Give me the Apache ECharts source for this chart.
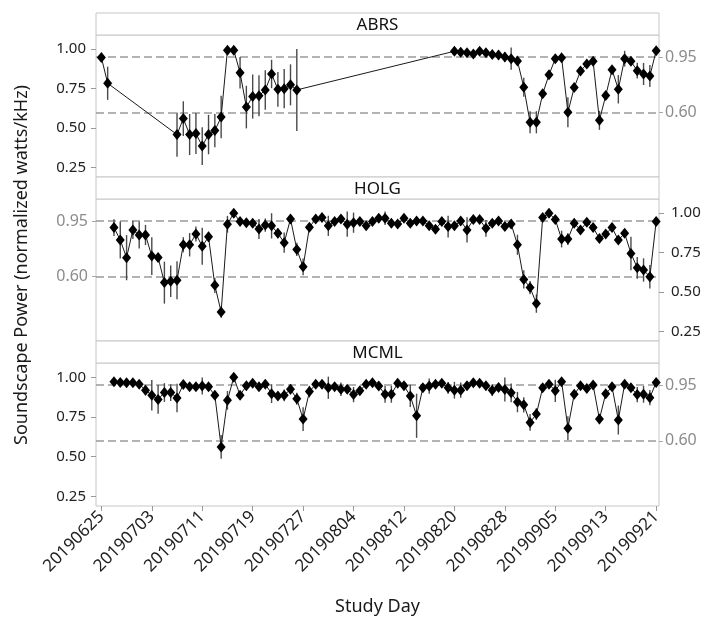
<!DOCTYPE html>
<html>
<head>
<meta charset="utf-8">
<script src="https://cdn.jsdelivr.net/npm/echarts@6/dist/echarts.min.js"></script>
<style>
  html, body { margin: 0; padding: 0; background: #fff; }
  #chart { width: 707px; height: 623px; }
</style>
</head>
<body>
<div id="chart"></div>
<script>
// Study days (one entry per day, 2019-06-25 .. 2019-09-21)
const DATES = [
  '20190625','20190626','20190627','20190628','20190629','20190630',
  '20190701','20190702','20190703','20190704','20190705','20190706','20190707','20190708','20190709','20190710',
  '20190711','20190712','20190713','20190714','20190715','20190716','20190717','20190718','20190719','20190720',
  '20190721','20190722','20190723','20190724','20190725','20190726','20190727','20190728','20190729','20190730','20190731',
  '20190801','20190802','20190803','20190804','20190805','20190806','20190807','20190808','20190809','20190810',
  '20190811','20190812','20190813','20190814','20190815','20190816','20190817','20190818','20190819','20190820',
  '20190821','20190822','20190823','20190824','20190825','20190826','20190827','20190828','20190829','20190830','20190831',
  '20190901','20190902','20190903','20190904','20190905','20190906','20190907','20190908','20190909','20190910',
  '20190911','20190912','20190913','20190914','20190915','20190916','20190917','20190918','20190919','20190920','20190921'
];

// Labelled study days on the x axis
const TICK_DATES = ['20190625','20190703','20190711','20190719','20190727','20190804',
                    '20190812','20190820','20190828','20190905','20190913','20190921'];

const SITES = ['ABRS', 'HOLG', 'MCML'];

// Daily mean soundscape power (null = no recording that day)
const ABRS_POWER = [
  0.948, 0.784, null, null, null, null, null, null, null, null,
  null, null, 0.459, 0.56, 0.459, 0.465, 0.386, 0.459, 0.484, 0.57,
  0.994, 0.994, 0.851, 0.633, 0.70, 0.705, 0.742, 0.843, 0.746, 0.75,
  0.774, 0.742, null, null, null, null, null, null, null, null,
  null, null, null, null, null, null, null, null, null, null,
  null, null, null, null, null, null, 0.987, 0.98, 0.978, 0.97,
  0.987, 0.978, 0.966, 0.964, 0.95, 0.94, 0.926, 0.759, 0.537, 0.537,
  0.717, 0.838, 0.94, 0.946, 0.60, 0.757, 0.862, 0.906, 0.923, 0.549,
  0.706, 0.87, 0.746, 0.94, 0.923, 0.864, 0.843, 0.83, 0.99
];
const ABRS_ERR = [
  0.01, 0.105, null, null, null, null, null, null, null, null,
  null, null, 0.14, 0.11, 0.13, 0.13, 0.12, 0.125, 0.105, 0.135,
  0.01, 0.01, 0.10, 0.135, 0.14, 0.13, 0.125, 0.09, 0.11, 0.125,
  0.13, 0.26, null, null, null, null, null, null, null, null,
  null, null, null, null, null, null, null, null, null, null,
  null, null, null, null, null, null, 0.01, 0.01, 0.012, 0.012,
  0.012, 0.015, 0.015, 0.03, 0.03, 0.07, 0.025, 0.06, 0.07, 0.07,
  0.025, 0.02, 0.015, 0.015, 0.095, 0.02, 0.02, 0.015, 0.015, 0.06,
  0.02, 0.02, 0.09, 0.05, 0.02, 0.05, 0.07, 0.07, 0.015
];

const HOLG_POWER = [
  null, null, 0.909, 0.83, 0.718, 0.894, 0.862, 0.862, 0.728, 0.72,
  0.56, 0.569, 0.575, 0.80, 0.80, 0.868, 0.79, 0.85, 0.543, 0.374,
  0.93, 1.00, 0.947, 0.94, 0.936, 0.90, 0.925, 0.92, 0.873, 0.813,
  0.964, 0.77, 0.66, 0.911, 0.964, 0.973, 0.92, 0.947, 0.964, 0.93,
  0.94, 0.947, 0.92, 0.947, 0.968, 0.968, 0.936, 0.932, 0.968, 0.936,
  0.95, 0.95, 0.92, 0.898, 0.947, 0.915, 0.92, 0.95, 0.894, 0.96,
  0.96, 0.904, 0.936, 0.95, 0.915, 0.932, 0.80, 0.58, 0.529, 0.427,
  0.973, 1.00, 0.96, 0.836, 0.836, 0.936, 0.894, 0.943, 0.909, 0.84,
  0.868, 0.909, 0.83, 0.873, 0.745, 0.654, 0.64, 0.597, 0.947
];
const HOLG_ERR = [
  null, null, 0.053, 0.117, 0.143, 0.058, 0.085, 0.064, 0.12, 0.027,
  0.133, 0.10, 0.12, 0.048, 0.074, 0.048, 0.117, 0.032, 0.048, 0.037,
  0.053, 0.015, 0.015, 0.015, 0.027, 0.064, 0.042, 0.08, 0.032, 0.064,
  0.015, 0.042, 0.053, 0.02, 0.015, 0.015, 0.064, 0.015, 0.015, 0.08,
  0.064, 0.015, 0.02, 0.015, 0.015, 0.042, 0.03, 0.02, 0.015, 0.015,
  0.015, 0.015, 0.02, 0.015, 0.015, 0.069, 0.02, 0.015, 0.08, 0.015,
  0.015, 0.053, 0.015, 0.015, 0.02, 0.02, 0.064, 0.058, 0.042, 0.058,
  0.015, 0.015, 0.015, 0.053, 0.037, 0.015, 0.015, 0.015, 0.015, 0.015,
  0.015, 0.015, 0.02, 0.015, 0.106, 0.069, 0.074, 0.074, 0.015
];

const MCML_POWER = [
  null, null, 0.972, 0.968, 0.966, 0.966, 0.957, 0.919, 0.887, 0.861,
  0.904, 0.904, 0.87, 0.955, 0.94, 0.94, 0.945, 0.94, 0.887, 0.562,
  0.855, 1.00, 0.887, 0.947, 0.962, 0.94, 0.957, 0.897, 0.883, 0.887,
  0.925, 0.865, 0.737, 0.91, 0.957, 0.957, 0.934, 0.94, 0.925, 0.925,
  0.891, 0.915, 0.957, 0.966, 0.945, 0.893, 0.893, 0.962, 0.947, 0.883,
  0.758, 0.934, 0.945, 0.957, 0.962, 0.934, 0.919, 0.919, 0.947, 0.966,
  0.962, 0.947, 0.919, 0.936, 0.923, 0.902, 0.844, 0.827, 0.716, 0.769,
  0.934, 0.957, 0.915, 0.972, 0.68, 0.893, 0.947, 0.93, 0.951, 0.737,
  0.897, 0.94, 0.731, 0.957, 0.934, 0.891, 0.893, 0.872, 0.968
];
const MCML_ERR = [
  null, null, 0.015, 0.015, 0.015, 0.015, 0.015, 0.032, 0.096, 0.09,
  0.059, 0.053, 0.09, 0.015, 0.015, 0.015, 0.053, 0.015, 0.02, 0.075,
  0.059, 0.015, 0.021, 0.015, 0.015, 0.015, 0.015, 0.059, 0.02, 0.037,
  0.032, 0.037, 0.075, 0.037, 0.015, 0.015, 0.07, 0.015, 0.043, 0.02,
  0.048, 0.015, 0.015, 0.015, 0.015, 0.053, 0.053, 0.015, 0.015, 0.07,
  0.139, 0.015, 0.048, 0.015, 0.015, 0.037, 0.053, 0.048, 0.015, 0.015,
  0.015, 0.015, 0.037, 0.015, 0.075, 0.059, 0.064, 0.048, 0.053, 0.037,
  0.015, 0.015, 0.07, 0.015, 0.075, 0.015, 0.015, 0.015, 0.015, 0.032,
  0.015, 0.015, 0.091, 0.015, 0.015, 0.048, 0.053, 0.048, 0.015
];

const POWER_TICKS = [0.25, 0.50, 0.75, 1.00];
const REF_LEVELS = [0.95, 0.60];

const SITE_POWER = { ABRS: ABRS_POWER, HOLG: HOLG_POWER, MCML: MCML_POWER };
const SITE_ERR = { ABRS: ABRS_ERR, HOLG: HOLG_ERR, MCML: MCML_ERR };

// ---- layout ----
const FONT = 'Noto Sans';
const PANEL_LEFT = 96, PANEL_RIGHT = 659, HEADER_H = 22;
const PANEL_TOPS = [13, 177, 341];
const PANEL_BOTTOMS = [177, 341, 506];
const Y_MIN = 0.19, Y_MAX = 1.09;
const X_MIN = -0.85, X_MAX = 88.45;
const BORDER = '#c6c6c6';

const DAY0 = Date.UTC(2019, 5, 25);
function dayOffset(s) {
  const t = Date.UTC(+s.slice(0, 4), +s.slice(4, 6) - 1, +s.slice(6, 8));
  return Math.round((t - DAY0) / 86400000);
}
function dayLabel(v) {
  const d = new Date(DAY0 + Math.round(v) * 86400000);
  const mm = String(d.getUTCMonth() + 1).padStart(2, '0');
  const dd = String(d.getUTCDate()).padStart(2, '0');
  return d.getUTCFullYear() + mm + dd;
}

const grid = [], xAxis = [], yAxis = [], series = [], graphic = [];

SITES.forEach((site, i) => {
  const top = PANEL_TOPS[i] + HEADER_H;
  const height = PANEL_BOTTOMS[i] - top;
  grid.push({
    left: PANEL_LEFT, top: top, width: PANEL_RIGHT - PANEL_LEFT, height: height,
    show: true, borderColor: BORDER, borderWidth: 1, backgroundColor: 'transparent',
    containLabel: false, outerBoundsMode: 'none'
  });

  const isBottom = i === SITES.length - 1;
  const tickDays = TICK_DATES.map(dayOffset);
  xAxis.push({
    gridIndex: i, type: 'value', min: X_MIN, max: X_MAX,
    show: isBottom,
    axisLine: { show: false, onZero: false },
    splitLine: { show: false },
    axisTick: { show: isBottom, customValues: tickDays, length: 5, lineStyle: { color: '#9a9a9a' } },
    axisLabel: {
      show: isBottom, customValues: tickDays, formatter: dayLabel, rotate: 45,
      margin: 8, fontSize: 17, fontFamily: FONT, color: '#222'
    }
  });

  // Power scale alternates sides; reference-level labels sit opposite it
  const powerSide = (i === 1) ? 'right' : 'left';
  const refSide = (i === 1) ? 'left' : 'right';
  yAxis.push({
    gridIndex: i, type: 'value', min: Y_MIN, max: Y_MAX, position: powerSide,
    axisLine: { show: false, onZero: false }, splitLine: { show: false },
    axisTick: { show: true, customValues: POWER_TICKS, length: 5, lineStyle: { color: '#9a9a9a' } },
    axisLabel: {
      customValues: POWER_TICKS, formatter: v => v.toFixed(2),
      margin: powerSide === 'left' ? 10 : 12, fontSize: 15, fontFamily: FONT, color: '#222'
    }
  });
  yAxis.push({
    gridIndex: i, type: 'value', min: Y_MIN, max: Y_MAX, position: refSide,
    axisLine: { show: false, onZero: false }, splitLine: { show: false },
    axisTick: { show: true, customValues: REF_LEVELS, length: 4, lineStyle: { color: '#a8a8a8' } },
    axisLabel: {
      customValues: REF_LEVELS, formatter: v => v.toFixed(2),
      margin: refSide === 'left' ? 8 : 6, fontSize: 16, fontFamily: FONT, color: '#8c8c8c'
    }
  });

  const power = SITE_POWER[site];
  const err = SITE_ERR[site];
  const points = [], bars = [];
  DATES.forEach((d, k) => {
    if (power[k] == null) return;
    const x = dayOffset(d);
    points.push([x, power[k]]);
    if (err[k] != null) bars.push([x, power[k] - err[k], power[k] + err[k]]);
  });

  // error bars
  series.push({
    type: 'custom', xAxisIndex: i, yAxisIndex: 2 * i, z: 2,
    data: bars, encode: { x: 0, y: [1, 2] }, silent: true,
    renderItem(params, api) {
      const x = api.value(0);
      const p1 = api.coord([x, api.value(1)]);
      const p2 = api.coord([x, api.value(2)]);
      return {
        type: 'line',
        shape: { x1: p1[0], y1: p1[1], x2: p2[0], y2: p2[1] },
        style: { stroke: '#4a4a4a', lineWidth: 1.4 }
      };
    }
  });

  // daily means with dashed reference levels
  series.push({
    type: 'line', name: site, xAxisIndex: i, yAxisIndex: 2 * i, z: 3,
    data: points, connectNulls: true,
    symbol: 'diamond', symbolSize: [9, 11], showSymbol: true,
    lineStyle: { color: '#1a1a1a', width: 1 },
    itemStyle: { color: '#000' },
    silent: true, animation: false,
    markLine: {
      silent: true, symbol: 'none', z: 1,
      label: { show: false },
      lineStyle: { color: '#9a9a9a', type: [8, 4], width: 1.5 },
      data: REF_LEVELS.map(v => ({ yAxis: v }))
    }
  });

  // facet header strip
  graphic.push({
    type: 'rect', z: 10,
    shape: { x: PANEL_LEFT, y: PANEL_TOPS[i], width: PANEL_RIGHT - PANEL_LEFT, height: HEADER_H },
    style: { fill: '#fff', stroke: BORDER, lineWidth: 1 }
  });
  graphic.push({
    type: 'text', z: 11,
    x: (PANEL_LEFT + PANEL_RIGHT) / 2, y: PANEL_TOPS[i] + HEADER_H / 2 + 1,
    style: {
      text: site, fill: '#111', font: '17px "' + FONT + '"',
      textAlign: 'center', textVerticalAlign: 'middle'
    }
  });
});

// axis titles
graphic.push({
  type: 'text', x: 22, y: 265, rotation: Math.PI / 2,
  style: {
    text: 'Soundscape Power (normalized watts/kHz)', fill: '#1a1a1a',
    font: '18px "' + FONT + '"', textAlign: 'center', textVerticalAlign: 'middle'
  }
});
graphic.push({
  type: 'text', x: (PANEL_LEFT + PANEL_RIGHT) / 2, y: 607,
  style: {
    text: 'Study Day', fill: '#1a1a1a',
    font: '18px "' + FONT + '"', textAlign: 'center', textVerticalAlign: 'middle'
  }
});

const chart = echarts.init(document.getElementById('chart'), null, { renderer: 'canvas' });
chart.setOption({
  backgroundColor: '#fff',
  animation: false,
  grid, xAxis, yAxis, series, graphic
});
</script>
</body>
</html>
